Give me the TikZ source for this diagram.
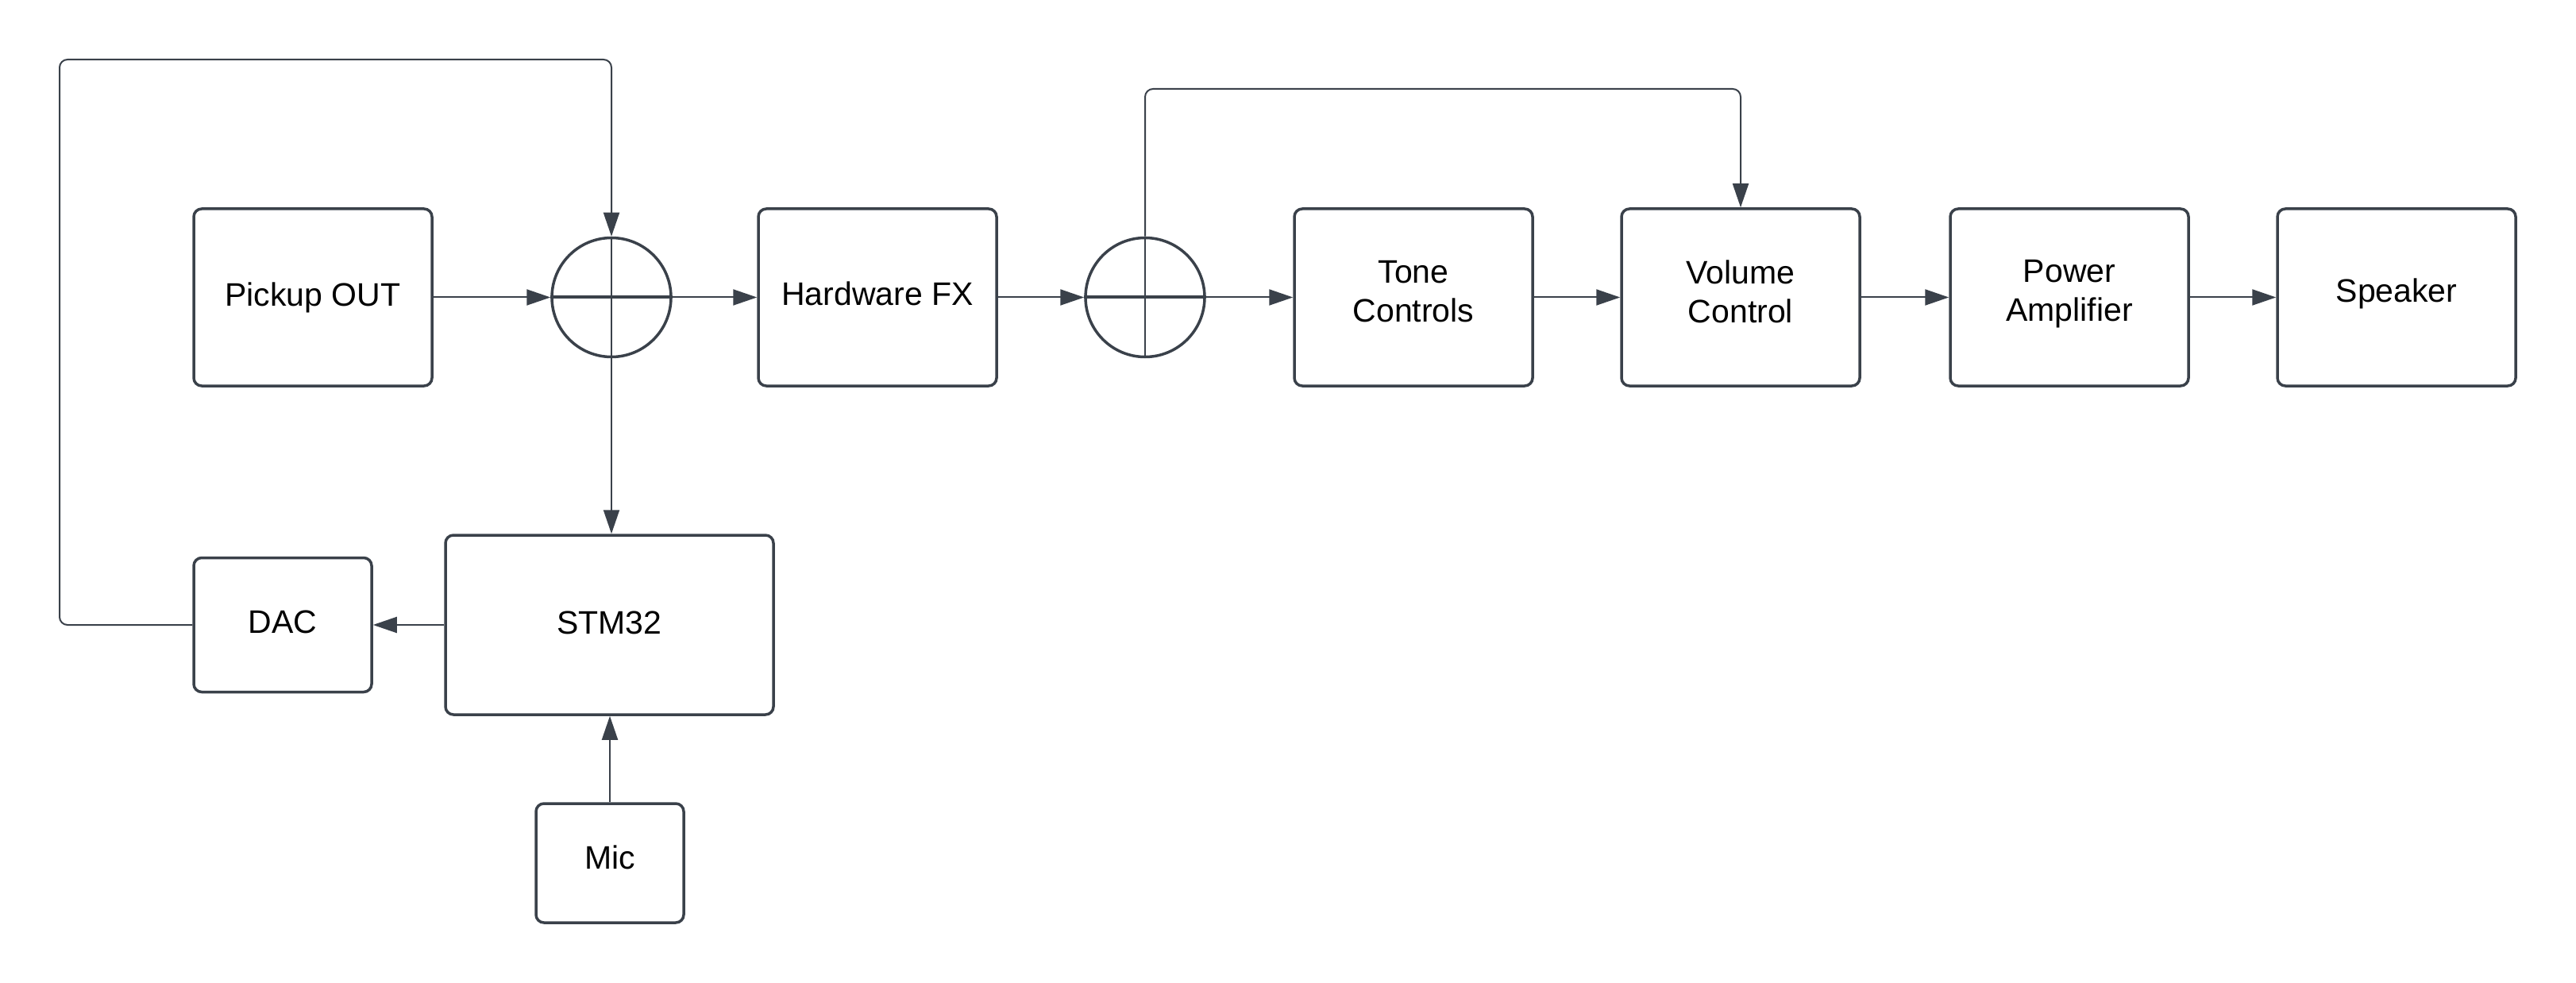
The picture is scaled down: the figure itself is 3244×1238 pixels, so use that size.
\documentclass[tikz,border=0pt]{standalone}
\usepackage{fontspec}
\setmainfont{Liberation Sans}
\usetikzlibrary{arrows.meta}
\definecolor{lc}{RGB}{58,65,74}
\begin{document}
\begin{tikzpicture}[x=1pt,y=-1pt,
  blk/.style={draw=lc, line width=3.5pt, rounded corners=10pt, minimum width=300pt, minimum height=223pt, inner sep=0pt},
  txt/.style={align=center, font=\fontsize{41}{49}\selectfont, inner sep=0pt, text=black},
  sumc/.style={circle, draw=lc, line width=3.5pt, minimum size=150pt, inner sep=0pt},
  conn/.style={draw=lc, line width=2pt, -{Triangle[length=30pt,width=20pt]}},
  crossv/.style={draw=lc, line width=2.5pt},
  crossh/.style={draw=lc, line width=4pt}]
\useasboundingbox (0,0) rectangle (3244,1238);
\fill[white] (0,0) rectangle (3244,1238);
% top row
\node[blk] (pick) at (394,374.5) {};
\node[txt] (pickT) at (pick.center) {Pickup OUT};
\node[sumc] (c1) at (770,374.5) {};
\node[blk] (hw) at (1105,374.5) {};
\node[txt] (hwT) at ([yshift=4.5pt]hw.center) {Hardware FX};
\node[sumc] (c2) at (1442,374.5) {};
\node[blk] (tone) at (1780,374.5) {};
\node[txt] (toneT) at ([yshift=7.5pt]tone.center) {Tone\\Controls};
\node[blk] (vol) at (2192,374.5) {};
\node[txt] (volT) at ([yshift=7.5pt]vol.center) {Volume\\Control};
\node[blk] (pow) at (2606,374.5) {};
\node[txt] (powT) at ([yshift=4pt]pow.center) {Power\\Amplifier};
\node[blk] (spk) at (3018,374.5) {};
\node[txt] (spkT) at ([yshift=4.5pt]spk.center) {Speaker};
% bottom
\node[blk, minimum width=224pt, minimum height=169pt] (dac) at (356,787) {};
\node[txt] (dacT) at ([yshift=3.5pt]dac.center) {DAC};
\node[blk, minimum width=413pt, minimum height=226pt] (stm) at (767.5,787) {};
\node[txt] (stmT) at ([yshift=3pt]stm.center) {STM32};
\node[blk, minimum width=186pt, minimum height=150pt] (mic) at (768,1087) {};
\node[txt] (micT) at ([yshift=7pt]mic.center) {Mic};
% crosses
\draw[crossv] (c1.north) -- (c1.south);
\draw[crossh] (c1.west) -- (c1.east);
\draw[crossv] (c2.north) -- (c2.south);
\draw[crossh] (c2.west) -- (c2.east);
% connectors
\draw[conn] (pick.east) -- (c1.west);
\draw[conn] (c1.east) -- (hw.west);
\draw[conn] (hw.east) -- (c2.west);
\draw[conn] (c2.east) -- (tone.west);
\draw[conn] (tone.east) -- (vol.west);
\draw[conn] (vol.east) -- (pow.west);
\draw[conn] (pow.east) -- (spk.west);
\draw[conn] (c1.south) -- (c1.south |- stm.north);
\draw[conn] (stm.west) -- (dac.east);
\draw[conn] (mic.north) -- (mic.north |- stm.south);
\coordinate (fb) at (75,75);
\draw[conn, rounded corners=10pt] (dac.west) -| (fb) -| (c1.north);
\coordinate (byp) at (0,112);
\draw[conn, rounded corners=10pt] (c2.north) -- (c2.north |- byp) -| (vol.north);
\end{tikzpicture}
\end{document}
